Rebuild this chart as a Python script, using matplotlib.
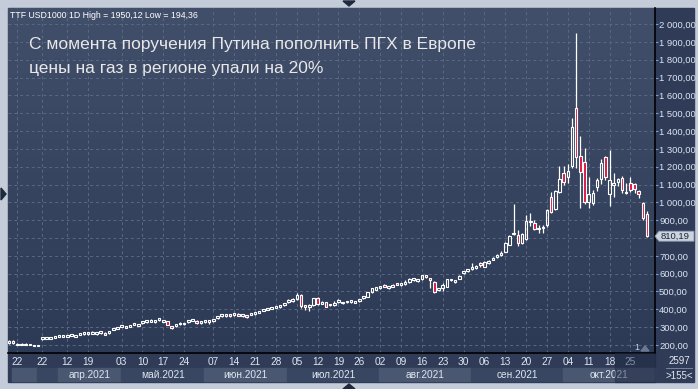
import numpy as np
import matplotlib
matplotlib.use("Agg")
import matplotlib.pyplot as plt
from matplotlib.patches import Rectangle, Polygon
from matplotlib.colors import LinearSegmentedColormap
from matplotlib import transforms

plt.rcParams['font.family'] = ['Liberation Sans', 'DejaVu Sans']

# daily TTF candles (USD per 1000 m3)
opens = [212, 222, 202, 202, 202, 201, 194, 194.5,
         232, 236, 236, 241, 246, 246, 246, 251, 246, 257, 260, 261,
         263, 261, 267, 268, 267, 286, 290, 303, 297, 303, 313, 307,
         322, 328, 331, 328, 339, 331, 334, 306, 306, 326, 316, 329,
         337, 332, 322, 331, 329, 333, 349, 360, 360, 372, 366, 376,
         361, 366, 369, 373, 381, 392, 397, 404, 408, 415, 424, 441,
         444, 458, 480, 422, 414, 424, 465, 432, 440, 423, 426, 442,
         433, 439, 442, 437, 447, 463, 471, 495, 511, 519, 537, 517,
         526, 547, 534, 540, 552, 564, 557, 570, 590, 575, 555, 508,
         522, 527, 562, 556, 572, 602, 616, 624, 633, 660, 640, 657,
         678, 692, 702, 723, 761, 830, 817, 774, 794, 898, 886, 850,
         855, 873, 1028, 963, 1056, 1163, 1144, 1205, 1527, 1260, 1224, 1003,
         995, 1084, 1129, 1256, 1045, 1100, 1112, 1135, 1054, 1106, 1101, 1065,
         996, 935]
highs = [228, 226, 210, 211, 210, 208, 201, 199,
         244, 247, 246, 251, 256, 256, 256, 261, 256, 267, 270, 273,
         276, 271, 279, 272, 281, 296, 300, 313, 307, 313, 323, 317,
         332, 338, 345, 338, 349, 341, 336, 308, 316, 328, 326, 339,
         347, 340, 332, 341, 339, 348, 361, 372, 375, 375, 378, 378,
         371, 368, 379, 383, 393, 404, 409, 414, 418, 425, 436, 458,
         462, 490, 485, 425, 430, 465, 470, 446, 442, 432, 446, 458,
         442, 448, 452, 446, 457, 475, 497, 519, 526, 531, 540, 528,
         540, 550, 546, 565, 575, 576, 568, 593, 594, 578, 560, 521,
         545, 570, 572, 566, 590, 617, 628, 660, 650, 665, 672, 678,
         694, 712, 725, 778, 815, 990, 845, 830, 929, 942, 900, 875,
         875, 965, 1060, 1070, 1205, 1205, 1215, 1471, 1950.12, 1372, 1306, 1144,
         1070, 1135, 1245, 1260, 1294, 1163, 1135, 1150, 1110, 1144, 1106, 1069,
         1000, 953]
lows = [205, 208, 199, 199, 199, 198, 195, 194.36,
        229, 233, 233, 238, 243, 243, 243, 248, 243, 254, 257, 258,
        260, 258, 264, 254, 262, 283, 287, 300, 294, 300, 310, 304,
        319, 325, 328, 325, 336, 328, 310, 292, 303, 314, 313, 326,
        334, 320, 319, 326, 320, 330, 346, 355, 355, 358, 363, 362,
        358, 350, 366, 370, 378, 389, 394, 401, 405, 410, 420, 438,
        440, 455, 410, 396, 388, 420, 424, 428, 412, 418, 420, 438,
        428, 435, 438, 433, 443, 460, 469, 492, 508, 516, 525, 512,
        523, 535, 531, 535, 550, 561, 552, 567, 578, 521, 492, 500,
        505, 524, 558, 548, 570, 598, 612, 620, 628, 640, 636, 652,
        674, 688, 698, 719, 758, 815, 755, 768, 790, 868, 845, 830,
        830, 862, 940, 955, 1050, 1100, 1110, 1195, 1190, 970, 990, 970,
        985, 1062, 1105, 1125, 981, 1032, 1090, 1050, 1045, 1060, 1055, 1025,
        900, 805]
closes = [222, 212, 207, 207, 207, 206, 199, 199,
          242, 246, 245, 251, 256, 256, 256, 261, 256, 267, 270, 271,
          273, 271, 277, 256, 277, 296, 300, 313, 307, 313, 323, 317,
          332, 338, 341, 338, 349, 341, 312, 295, 316, 316, 326, 339,
          347, 322, 332, 341, 339, 346, 361, 372, 371, 361, 378, 364,
          371, 356, 379, 383, 393, 404, 409, 414, 418, 425, 436, 453,
          456, 480, 419, 412, 426, 461, 428, 442, 415, 431, 435, 452,
          440, 447, 451, 445, 457, 475, 495, 517, 523, 531, 527, 528,
          538, 537, 546, 552, 568, 576, 568, 590, 580, 563, 499, 518,
          534, 568, 569, 562, 587, 614, 627, 636, 645, 648, 665, 671,
          690, 705, 716, 774, 811, 820, 774, 820, 895, 890, 850, 856,
          860, 957, 947, 1063, 1129, 1116, 1175, 1424, 1256, 1168, 1003, 1047,
          1054, 1125, 1219, 1144, 1125, 1106, 1129, 1069, 1060, 1069, 1073, 1045,
          910, 810.19]

tick_pos = [2, 8, 14, 19, 27, 32, 37, 42, 49, 54, 59, 64, 69, 74, 79,
            84, 89, 94, 99, 104, 109, 114, 119, 124, 129, 134, 139, 144, 149]
tick_labels = ['22', '22', '12', '19', '03', '10', '17', '24', '07', '14',
               '21', '28', '05', '12', '19', '26', '02', '09', '16', '23',
               '30', '06', '13', '20', '27', '04', '11', '18', '25']
months = ['', '', 'апр.2021', 'май.2021', 'июн.2021', 'июл.2021',
          'авг.2021', 'сен.2021', 'окт.2021']
month_edges = [0.7, 6.7, 11.75, 26.9, 46.8, 66.7, 88.8, 110.7, 132.9, 154.9]
price_ticks = list(range(200, 2001, 100))

W, H = 698, 389
fig = plt.figure(figsize=(W / 100, H / 100), dpi=100, facecolor='#c3ccd8')


def fx(x):
    return x / W


def fy(y):
    return 1 - y / H


# dark chart panel
fig.patches.append(Rectangle((fx(8), fy(382)), fx(686), 374 / H,
                             transform=fig.transFigure, color='#2f3b57', zorder=-2))

ax = fig.add_axes([fx(8), fy(353), fx(647), 345 / H])
ax.set_xlim(-0.24, 154.9)
ax.set_ylim(155, 2090)

grad = np.linspace(1, 0, 256).reshape(-1, 1)
cmap = LinearSegmentedColormap.from_list('bg', ['#2d3a56', '#424f6b'])
ax.imshow(grad, extent=[0, 1, 0, 1], transform=ax.transAxes, aspect='auto',
          cmap=cmap, zorder=0)

ax.set_yticks(price_ticks)
ax.set_xticks(tick_pos)
ax.set_xticklabels(tick_labels)
ax.grid(True, color='#5a6884', linestyle=(0, (3, 3)), linewidth=0.7, zorder=1)
ax.set_axisbelow(True)

for s in ['top', 'left']:
    ax.spines[s].set_visible(False)
for s in ['right', 'bottom']:
    ax.spines[s].set_color('black')
    ax.spines[s].set_linewidth(1.2)

ax.yaxis.tick_right()
ax.yaxis.set_major_formatter(
    lambda v, p: f"{v:,.2f}".replace(',', ' ').replace('.', ','))
ax.tick_params(axis='y', labelsize=6.8, labelcolor='#dbe6f3', color='#6f9fd8',
               length=2, pad=1)
ax.tick_params(axis='x', labelsize=7.3, labelcolor='#dde6f0', length=0, pad=3)

# candles
x = np.arange(len(opens))
o = np.array(opens)
c = np.array(closes)
up = c >= o
top = np.maximum(o, c)
bot = np.minimum(o, c)
ax.vlines(x, top, highs, color='white', linewidth=0.9, zorder=3)
ax.vlines(x, lows, bot, color='white', linewidth=0.9, zorder=3)
ax.bar(x, top - bot, bottom=bot, width=0.6,
       color=np.where(up, 'none', '#d8173f'), edgecolor='white',
       linewidth=0.8, zorder=4)

# date axis month bands
bt = transforms.blended_transform_factory(ax.transData, fig.transFigure)
for i, m in enumerate(months):
    a, b = month_edges[i], month_edges[i + 1]
    col = '#4a5771' if i % 2 == 0 else '#394661'
    ax.add_patch(Rectangle((a, fy(381)), b - a, 13 / H, transform=bt,
                           color=col, clip_on=False, zorder=1))
    ax.text((a + b) / 2, fy(375), m, transform=bt, ha='center', va='center',
            fontsize=7.3, color='#dde6f0', clip_on=False)

fig.patches.append(Rectangle((fx(615), fy(382)), fx(40), 29 / H,
                             transform=fig.transFigure, color='#1c2640',
                             alpha=0.45, zorder=5))

# labels
fig.text(fx(10), fy(15), 'TTF USD1000 1D High = 1950,12 Low = 194,36',
         fontsize=6.3, color='white', va='center')
fig.text(fx(29), fy(45), 'С момента поручения Путина пополнить ПГХ в Европе',
         fontsize=12.5, color='#e8e8e8', va='center')
fig.text(fx(29), fy(69), 'цены на газ в регионе упали на 20%',
         fontsize=12.5, color='#e8e8e8', va='center')

# last price marker (covers the price label beneath it, as on the terminal)
fig.canvas.draw()
for t, v in zip(ax.get_yticklabels(), price_ticks):
    if abs(v - closes[-1]) < 40:
        t.set_visible(False)
ly = ax.transData.transform((0, closes[-1]))[1]
ly_f = ly / H
fig.patches.append(Polygon([(fx(655), ly_f), (fx(659), ly_f + 5 / H),
                            (fx(694), ly_f + 5 / H), (fx(694), ly_f - 5 / H),
                            (fx(659), ly_f - 5 / H)],
                           transform=fig.transFigure, facecolor='#ccd4de',
                           edgecolor='#8a98ae', linewidth=0.6, zorder=6))
fig.text(fx(661), ly_f, f"{closes[-1]:.2f}".replace('.', ','), fontsize=6.8,
         color='#1c2436', va='center', zorder=7)

# corner box
fig.text(fx(679), fy(361), '2597', fontsize=7, color='#e0e8f0',
         ha='center', va='center')
fig.text(fx(679), fy(376), '>155<', fontsize=7, color='#e0e8f0',
         ha='center', va='center')
fig.lines.append(plt.Line2D([fx(666), fx(692)], [fy(368), fy(368)],
                            transform=fig.transFigure, color='#8090a8', lw=0.6))

fig.text(fx(637), fy(348), '1', fontsize=6.5, color='#c8d0dc',
         ha='center', va='center')
fig.patches.append(Polygon([(fx(641), fy(351)), (fx(649), fy(351)),
                            (fx(645), fy(346))], transform=fig.transFigure,
                           color='#6a7890', zorder=6))

# frame arrows
for pts in ([(343, 1), (355, 1), (349, 6)],
            [(1, 188), (1, 200), (6, 194)],
            [(343, 389), (355, 389), (349, 384)]):
    fig.patches.append(Polygon([(fx(a), fy(b)) for a, b in pts],
                               transform=fig.transFigure, color='#1e2a3c'))

fig.savefig('out.png', dpi=100, facecolor=fig.get_facecolor())
